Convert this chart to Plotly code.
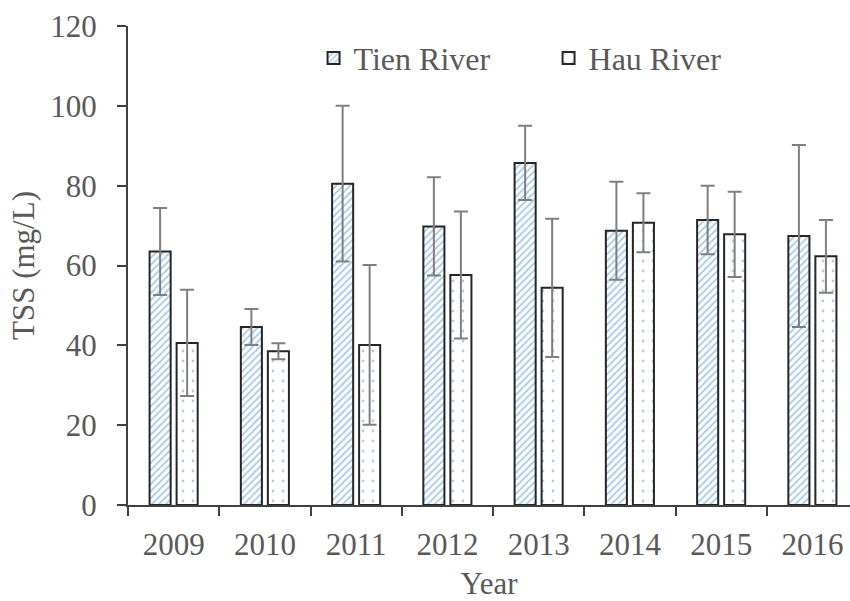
import plotly.graph_objects as go

# TSS concentrations (mg/L) by year, mean and standard deviation
years = ["2009", "2010", "2011", "2012", "2013", "2014", "2015", "2016"]
tien_mean = [63.5, 44.6, 80.5, 69.8, 85.7, 68.7, 71.4, 67.4]
tien_sd = [10.9, 4.5, 19.5, 12.3, 9.3, 12.3, 8.6, 22.8]
hau_mean = [40.6, 38.5, 40.1, 57.6, 54.4, 70.7, 67.8, 62.3]
hau_sd = [13.3, 2.0, 20.0, 15.9, 17.3, 7.4, 10.7, 9.1]

FONT = "Liberation Serif, Times New Roman, serif"
TEXT = "#595959"
AXIS = "#404040"
BLUE = "#5b9bd5"

err_style = dict(type="data", visible=True, color="#7f7f7f", thickness=2, width=7)

fig = go.Figure()
fig.add_trace(go.Bar(
    name="Tien River", x=years, y=tien_mean,
    error_y=dict(array=tien_sd, **err_style),
    marker=dict(color="white", line=dict(color="#262626", width=2),
                pattern=dict(shape="/", fgcolor=BLUE, bgcolor="white",
                             size=5, solidity=0.4)),
))
fig.add_trace(go.Bar(
    name="Hau River", x=years, y=hau_mean,
    error_y=dict(array=hau_sd, **err_style),
    marker=dict(color="white", line=dict(color="#262626", width=2),
                pattern=dict(shape=".", fgcolor=BLUE, bgcolor="white",
                             size=10, solidity=0.06)),
))

fig.update_layout(
    width=850, height=601,
    margin=dict(l=128, r=0, t=26, b=96),
    paper_bgcolor="white", plot_bgcolor="white",
    barmode="group", bargap=0.408, bargroupgap=0.22,
    font=dict(family=FONT, size=31, color=TEXT),
    showlegend=True,
    legend=dict(orientation="h", x=0.257, y=0.933, xanchor="left", yanchor="middle",
                bgcolor="rgba(0,0,0,0)", font=dict(family=FONT, size=32, color=TEXT),
                entrywidth=190, entrywidthmode="pixels", itemsizing="constant"),
)
fig.update_xaxes(
    type="category", range=[-0.5, 7.412],
    showline=True, linecolor=AXIS, linewidth=2,
    ticks="outside", tickson="boundaries", ticklen=9, tickwidth=2, tickcolor=AXIS,
    showgrid=False, zeroline=False, ticklabelstandoff=11,
    title=dict(text="Year", standoff=11, font=dict(family=FONT, size=31, color=TEXT)),
)
fig.update_yaxes(
    range=[0, 120], dtick=20, tick0=0,
    showline=True, linecolor=AXIS, linewidth=2,
    ticks="outside", ticklen=9, tickwidth=2, tickcolor=AXIS,
    showgrid=False, zeroline=False, ticklabelstandoff=14,
    title=dict(text="TSS (mg/L)", standoff=6, font=dict(family=FONT, size=31, color=TEXT)),
)

fig.write_html("out.html")
